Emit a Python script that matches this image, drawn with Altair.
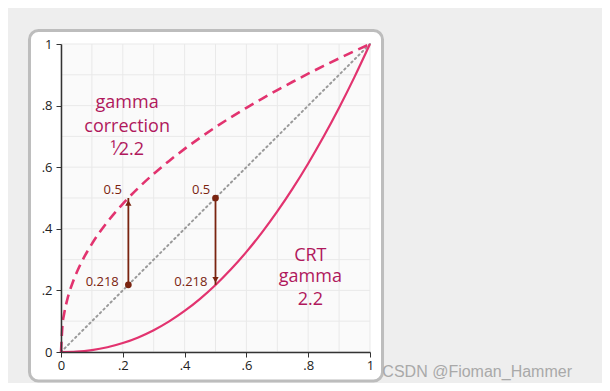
import altair as alt
import pandas as pd

# ---- data ----
crt_x = [0, 0.05, 0.1, 0.15, 0.2, 0.25, 0.3, 0.35, 0.4, 0.45, 0.5, 0.55, 0.6, 0.65, 0.7, 0.75, 0.8, 0.85, 0.9, 0.95, 1]
crt_y = [0, 0.0014, 0.0063, 0.0154, 0.029, 0.0474, 0.0707, 0.0993, 0.1332, 0.1726, 0.2176, 0.2684, 0.325, 0.3876, 0.4563, 0.5311, 0.6121, 0.6994, 0.7931, 0.8933, 1]
corr_x = [0, 0.005, 0.01, 0.02, 0.04, 0.06, 0.1, 0.15, 0.2, 0.25, 0.3, 0.35, 0.4, 0.45, 0.5, 0.55, 0.6, 0.65, 0.7, 0.75, 0.8, 0.85, 0.9, 0.95, 1]
corr_y = [0, 0.09, 0.1233, 0.169, 0.2315, 0.2784, 0.3511, 0.4222, 0.4812, 0.5325, 0.5785, 0.6205, 0.6594, 0.6956, 0.7298, 0.7621, 0.7928, 0.8222, 0.8503, 0.8774, 0.9036, 0.9288, 0.9532, 0.977, 1]
diag_x = [0, 1]
diag_y = [0, 1]
grid_vals = [0, 0.1, 0.2, 0.3, 0.4, 0.5, 0.6, 0.7, 0.8, 0.9, 1]
arrow_x = [0.218, 0.5]
arrow_from = [0.218, 0.5]
arrow_to = [0.5, 0.218]
num_labels = ["0.5", "0.218", "0.5", "0.218"]
num_x = [0.197, 0.187, 0.483, 0.474]
num_y = [0.525, 0.227, 0.525, 0.227]
corr_lines = ["gamma", "correction", "\u00b9\u20442.2"]
corr_lines_y = [0.810, 0.732, 0.657]
crt_lines = ["CRT", "gamma", "2.2"]
crt_lines_y = [0.313, 0.242, 0.170]

PINK = "#e2336f"
MAG = "#b0185c"
BROWN = "#7a2410"
FONT = "Open Sans"

xs = alt.Scale(domain=[0, 1], nice=False, zero=False)
ys = alt.Scale(domain=[0, 1], nice=False, zero=False)

tick_vals = grid_vals
lab = "round(datum.value*10)%2==1 ? '' : (datum.value==0 ? '0' : (datum.value==1 ? '1' : replace(format(datum.value,'.1f'),'0.','.')))"

xaxis = alt.Axis(values=tick_vals, labelExpr=lab, grid=False, title=None, zindex=1,
                 domainColor="#333", domainWidth=1.5, tickColor="#333", tickSize=5,
                 labelFont=FONT, labelFontSize=13, labelColor="#222", labelPadding=2,
                 labelFlush=False)
yaxis = alt.Axis(values=tick_vals, labelExpr=lab, grid=False, title=None, zindex=1,
                 domainColor="#333", domainWidth=1.5, tickColor="#333", tickSize=5,
                 labelFont=FONT, labelFontSize=13, labelColor="#222", labelPadding=4,
                 labelFlush=False)

frame_df = pd.DataFrame({"x": [-0.102], "x2": [1.0405], "y": [-0.094], "y2": [1.044]})
frame = alt.Chart(frame_df).mark_rect(fill="white", stroke="#bdbdbd", strokeWidth=3, cornerRadius=9).encode(
    x=alt.X("x:Q", scale=xs, axis=xaxis), x2="x2", y=alt.Y("y:Q", scale=ys, axis=yaxis), y2="y2")

bg_df = pd.DataFrame({"x": [0], "x2": [1], "y": [0], "y2": [1]})
bg = alt.Chart(bg_df).mark_rect(fill="#fafafa").encode(
    x=alt.X("x:Q", scale=xs), x2="x2", y=alt.Y("y:Q", scale=ys), y2="y2")

gdf = pd.DataFrame({"v": grid_vals})
vgrid = alt.Chart(gdf).mark_rule(color="#e9e9e9", strokeWidth=1).encode(
    x=alt.X("v:Q", scale=xs), y=alt.Y("z0:Q", scale=ys), y2="z1:Q"
).transform_calculate(z0="0", z1="1")
hgrid = alt.Chart(gdf).mark_rule(color="#e9e9e9", strokeWidth=1).encode(
    y=alt.Y("v:Q", scale=ys), x=alt.X("z0:Q", scale=xs), x2="z1:Q"
).transform_calculate(z0="0", z1="1")

diag = alt.Chart(pd.DataFrame({"x": diag_x, "y": diag_y})).mark_line(
    color="#9a9a9a", strokeWidth=2, strokeDash=[1.5, 3.5], strokeCap="round").encode(
    x=alt.X("x:Q", scale=xs), y=alt.Y("y:Q", scale=ys))

crt = alt.Chart(pd.DataFrame({"x": crt_x, "y": crt_y})).mark_line(
    color=PINK, strokeWidth=2.2, interpolate="monotone").encode(
    x=alt.X("x:Q", scale=xs), y=alt.Y("y:Q", scale=ys))

corr = alt.Chart(pd.DataFrame({"x": corr_x, "y": corr_y})).mark_line(
    color=PINK, strokeWidth=2.6, strokeDash=[10, 6], interpolate="monotone").encode(
    x=alt.X("x:Q", scale=xs), y=alt.Y("y:Q", scale=ys))

adf = pd.DataFrame({"x": arrow_x, "y0": arrow_from, "y1": arrow_to})
shaft = alt.Chart(adf).mark_rule(color=BROWN, strokeWidth=1.8).encode(
    x=alt.X("x:Q", scale=xs), y=alt.Y("y0:Q", scale=ys), y2="y1:Q")
dots = alt.Chart(adf).mark_circle(color=BROWN, size=45, opacity=1).encode(
    x=alt.X("x:Q", scale=xs), y=alt.Y("y0:Q", scale=ys))
head_up = alt.Chart(adf.iloc[[0]]).mark_point(shape="triangle-up", filled=True, color=BROWN, size=40, opacity=1, yOffset=5).encode(
    x=alt.X("x:Q", scale=xs), y=alt.Y("y1:Q", scale=ys))
head_dn = alt.Chart(adf.iloc[[1]]).mark_point(shape="triangle-down", filled=True, color=BROWN, size=40, opacity=1, yOffset=-5).encode(
    x=alt.X("x:Q", scale=xs), y=alt.Y("y1:Q", scale=ys))

ndf = pd.DataFrame({"t": num_labels, "x": num_x, "y": num_y})
nums = alt.Chart(ndf).mark_text(align="right", baseline="middle", font=FONT, fontSize=13, color=BROWN).encode(
    x=alt.X("x:Q", scale=xs), y=alt.Y("y:Q", scale=ys), text="t:N")

cdf = pd.DataFrame({"t": corr_lines, "y": corr_lines_y, "x": [0.214] * 3})
ctext = alt.Chart(cdf).mark_text(align="center", baseline="middle", font=FONT, fontSize=18, color=MAG).encode(
    x=alt.X("x:Q", scale=xs), y=alt.Y("y:Q", scale=ys), text="t:N")

rdf = pd.DataFrame({"t": crt_lines, "y": crt_lines_y, "x": [0.807] * 3})
rtext = alt.Chart(rdf).mark_text(align="center", baseline="middle", font=FONT, fontSize=18, color=MAG).encode(
    x=alt.X("x:Q", scale=xs), y=alt.Y("y:Q", scale=ys), text="t:N")

wdf = pd.DataFrame({"t": ["CSDN @Fioman_Hammer"], "x": [1.04], "y": [-0.064]})
wm = alt.Chart(wdf).mark_text(align="left", baseline="middle", font="Liberation Sans", fontSize=16, color="#a9a9a9").encode(
    x=alt.X("x:Q", scale=xs), y=alt.Y("y:Q", scale=ys), text="t:N")

chart = alt.layer(frame, bg, vgrid, hgrid, diag, crt, corr, shaft, dots, head_up, head_dn,
                  nums, ctext, rtext, wm).properties(
    width=309, height=308, background="#eeeeee",
    padding={"left": 53, "top": 36, "right": 232, "bottom": 31},
    autosize=alt.AutoSizeParams(type="none"),
).configure_view(stroke=None)

chart.save("out.html", embed_options={"renderer": "svg", "actions": False})
